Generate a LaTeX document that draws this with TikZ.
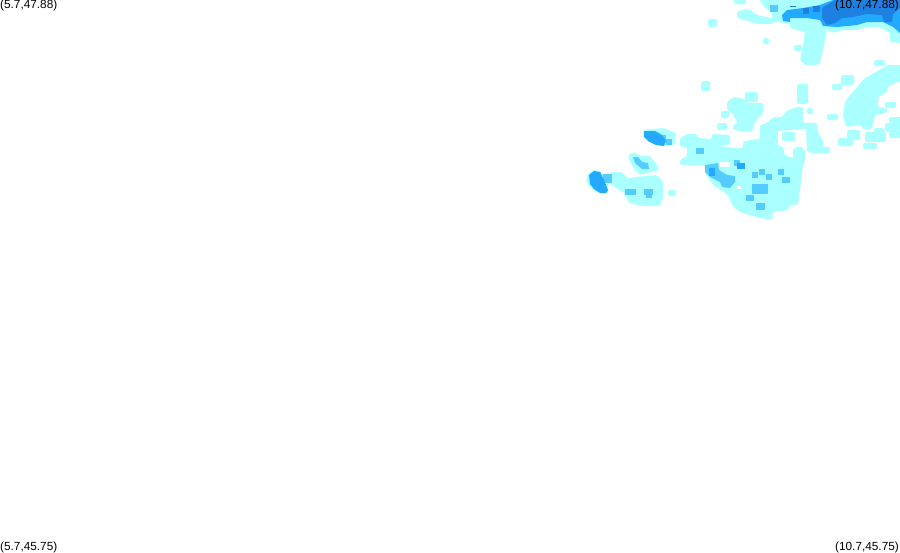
\documentclass[tikz,border=0pt]{standalone}
\usepackage{fontspec}
\setmainfont{Liberation Sans}
\tikzset{
  lightcell/.style={fill={rgb,255:red,170;green,255;blue,255},rounded corners=1.5pt},
  midcell/.style={fill={rgb,255:red,85;green,204;blue,255}},
  strongcell/.style={fill={rgb,255:red,34;green,170;blue,255}},
  darkcell/.style={fill={rgb,255:red,30;green,128;blue,224}},
  cornerlabel/.style={inner sep=0pt,font=\fontsize{11.8}{12}\selectfont}
}
\begin{document}
\begin{tikzpicture}[x=1pt,y=-1pt]
  \useasboundingbox (0,0) rectangle (900,552);
  \fill [lightcell] (734,-3) rectangle (746,4);
  \fill [lightcell] (758,-3) -- (903,-3) -- (903,43) -- (890,42) -- (890,33) -- (880,27) -- (867,27) -- (857,30) -- (842,30) -- (832,33) -- (828,30) -- (815,30) -- (813,33) -- (803,32) -- (790,28) -- (790,23) -- (772,22) -- (772,12) -- (765,8) -- cycle;
  \fill [lightcell] (737,12) -- (745,9) -- (752,11) -- (757,15) -- (772,18) -- (773,24) -- (758,24) -- (745,20) -- (737,18) -- cycle;
  \fill [lightcell] (708,19) rectangle (717,27);
  \fill [lightcell] (805,30) -- (827,30) -- (825,40) -- (822,55) -- (819,65) -- (805,65) -- (800,60) -- (802,50) -- (804,40) -- cycle;
  \fill [lightcell] (763,38) rectangle (769,44);
  \fill [lightcell] (794,45) rectangle (802,51);
  \fill [lightcell] (874,60) rectangle (885,66);
  \fill [lightcell] (903,65) -- (888,65) -- (874,73) -- (865,78) -- (861,82) -- (855,90) -- (850,95) -- (845,102) -- (843,115) -- (846,127) -- (862,125) -- (862,129) -- (872,129) -- (875,115) -- (887,113) -- (887,108) -- (878,107) -- (878,97) -- (887,92) -- (887,87) -- (903,80) -- cycle;
  \fill [lightcell] (841,75) rectangle (854,85);
  \fill [lightcell] (832,84) rectangle (842,90);
  \fill [lightcell] (885,102) rectangle (896,108);
  \fill [lightcell] (889,117) rectangle (903,123);
  \fill [lightcell] (885,123) rectangle (903,132);
  \fill [lightcell] (889,132) rectangle (903,138);
  \fill [lightcell] (847,130) rectangle (860,140);
  \fill [lightcell] (838,138) rectangle (853,146);
  \fill [lightcell] (865,132) rectangle (886,142);
  \fill [lightcell] (863,143) rectangle (877,149);
  \fill [lightcell] (874,128) rectangle (884,133);
  \fill [lightcell] (827,114) rectangle (838,120);
  \fill [lightcell] (807,108) rectangle (813,114);
  \fill [lightcell] (797,84) rectangle (808,104);
  \fill [lightcell] (701,81) rectangle (710,91);
  \fill [lightcell] (745,92) rectangle (758,102);
  \fill [lightcell] (721,111) rectangle (729,118);
  \fill [lightcell] (717,123) rectangle (727,130);
  \fill [lightcell] (668,190) rectangle (676,196);
  \fill [lightcell] (727,102) -- (733,97) -- (742,98) -- (748,103) -- (763,103) -- (763,113) -- (755,122) -- (752,132) -- (733,130) -- (733,125) -- (738,123) -- (732,113) -- (727,110) -- cycle;
  \fill [lightcell] (680,138) -- (687,134) -- (697,134) -- (698,138) -- (712,139) -- (712,134) -- (730,135) -- (730,145) -- (718,145) -- (725,147) -- (738,148) -- (743,148) -- (743,142) -- (750,140) -- (760,139) -- (760,125) -- (767,123) -- (773,117) -- (782,117) -- (788,110) -- (797,107) -- (803,107) -- (803,123) -- (817,123) -- (818,133) -- (823,140) -- (823,147) -- (830,147) -- (830,153) -- (810,153) -- (807,150) -- (805,160) -- (803,165) -- (798,205) -- (790,205) -- (788,210) -- (773,212) -- (772,220) -- (760,218) -- (742,213) -- (733,207) -- (728,195) -- (713,185) -- (705,173) -- (705,165) -- (680,165) -- (680,160) -- (687,156) -- (687,147) -- (680,147) -- cycle;
  \fill [white] (778,131) -- (806,129) -- (807,152) -- (806,158) -- (793,158) -- (785,155) -- (783,147) -- (778,145) -- cycle;
  \fill [lightcell] (782,132) rectangle (795,141);
  \fill [lightcell] (793,149) -- (800,146) -- (805,150) -- (805,161) -- (793,161) -- cycle;
  \fill [white] (720,162) rectangle (730,167);
  \fill [white] (737,186) rectangle (741,189);
  \fill [lightcell] (643,130) -- (663,128) -- (676,133) -- (675,145) -- (660,146) -- (650,142) -- (644,137) -- cycle;
  \fill [lightcell] (586,178) -- (592,170) -- (600,171) -- (603,175) -- (613,172) -- (622,172) -- (628,179) -- (635,177) -- (657,175) -- (663,182) -- (663,198) -- (660,206) -- (647,206) -- (637,205) -- (628,202) -- (625,194) -- (617,188) -- (608,183) -- (608,193) -- (602,194) -- (593,190) -- (587,183) -- cycle;
  \fill [lightcell] (628,155) -- (635,152) -- (640,156) -- (650,156) -- (655,162) -- (659,170) -- (652,172) -- (640,175) -- (635,170) -- (630,162) -- cycle;
  \fill [midcell] (696,148) rectangle (704,154);
  \fill [midcell] (734,160) rectangle (740,166);
  \fill [midcell] (759,169) rectangle (765,175);
  \fill [midcell] (778,169) rectangle (784,175);
  \fill [midcell] (752,172) rectangle (758,178);
  \fill [midcell] (766,174) rectangle (772,180);
  \fill [midcell] (782,177) rectangle (790,183);
  \fill [midcell] (752,184) rectangle (768,194);
  \fill [midcell] (746,195) rectangle (754,201);
  \fill [midcell] (756,203) rectangle (765,210);
  \fill [midcell] (705,165) -- (712,164) -- (718,163) -- (719,170) -- (727,175) -- (735,176) -- (735,182) -- (730,188) -- (722,187) -- (720,182) -- (710,177) -- (705,172) -- cycle;
  \fill [midcell] (660,135) rectangle (666,140);
  \fill [midcell] (666,139) rectangle (672,145);
  \fill [midcell] (603,174) rectangle (612,183);
  \fill [midcell] (625,189) rectangle (636,195);
  \fill [midcell] (644,189) rectangle (653,195);
  \fill [midcell] (646,195) rectangle (652,198);
  \fill [midcell] (633,157) -- (638,157) -- (642,162) -- (648,163) -- (649,169) -- (642,169) -- (635,163) -- cycle;
  \fill [midcell] (770,5) rectangle (778,12);
  \fill [strongcell] (737,163) rectangle (745,169);
  \fill [strongcell] (709,168) rectangle (715,176);
  \fill [strongcell] (644,131) -- (655,131) -- (662,135) -- (666,141) -- (664,146) -- (656,145) -- (648,141) -- (644,137) -- cycle;
  \fill [strongcell] (589,175) -- (594,171) -- (600,172) -- (604,180) -- (608,190) -- (606,193) -- (600,193) -- (594,189) -- (590,184) -- cycle;
  \fill [strongcell] (782,15) -- (787,10) -- (803,8) -- (820,5) -- (833,0) -- (900,0) -- (900,33) -- (893,27) -- (883,22) -- (867,22) -- (857,25) -- (837,27) -- (823,26) -- (820,20) -- (807,18) -- (790,18) -- (790,22) -- (783,21) -- cycle;
  \fill [darkcell] (803,8) rectangle (809,14);
  \fill [darkcell] (813,6) rectangle (820,12);
  \fill [darkcell] (822,8) -- (835,0) -- (900,0) -- (900,8) -- (893,14) -- (892,22) -- (884,22) -- (882,15) -- (867,14) -- (853,17) -- (842,18) -- (835,23) -- (827,25) -- (822,18) -- cycle;
  \fill [darkcell] (790,5.5) rectangle (796,6.5);
  \node [cornerlabel,anchor=west] (topleft) at (0,5) {(5.7,47.88)};
  \node [cornerlabel,anchor=east] (topright) at (899,5) {(10.7,47.88)};
  \node [cornerlabel,anchor=west] (bottomleft) at (0,547.5) {(5.7,45.75)};
  \node [cornerlabel,anchor=east] (bottomright) at (899,547.5) {(10.7,45.75)};
\end{tikzpicture}
\end{document}
